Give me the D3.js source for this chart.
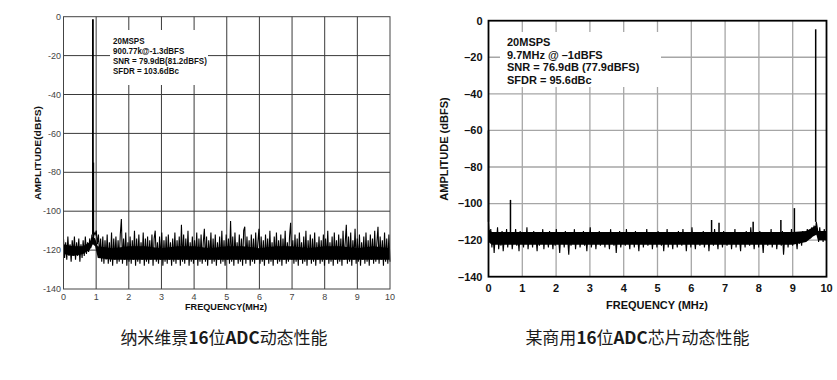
<!DOCTYPE html>
<html><head><meta charset="utf-8">
<script src="https://cdn.jsdelivr.net/npm/d3@7/dist/d3.min.js"></script>
<style>body{margin:0;background:#fff}svg{display:block}</style>
</head><body>
<svg id="chart" width="837" height="380"></svg>
<script>
// ---------- DATA ----------
const yTickValues = [0, -20, -40, -60, -80, -100, -120, -140];
const xTickValues = [0, 1, 2, 3, 4, 5, 6, 7, 8, 9, 10];
const freqRange = [0, 10];   // MHz
const ampRange = [-140, 0];  // dBFS

// left chart noise trace (evenly spaced FFT bins 0..10 MHz)
const leftNoise = [
-114,-124,-116,-125,-113,-123,-117,-126,-115,-122,
-113,-125,-116,-123,-114,-126,-117,-124,-115,-123,
-113,-122,-116,-121,-114,-119,-112,-116,-111,-112,
-110,-117,-112,-122,-114,-126,-113,-127,-115,-125,
-112,-127,-116,-126,-111,-128,-114,-125,-113,-127,
-115,-126,-112,-104,-127,-114,-125,-111,-128,-116,
-126,-113,-127,-115,-125,-110,-128,-114,-126,-112,
-127,-116,-125,-111,-128,-114,-126,-113,-127,-115,
-125,-112,-128,-114,-110,-126,-116,-127,-113,-125,
-111,-128,-115,-126,-113,-127,-112,-125,-116,-128,
-114,-126,-111,-127,-115,-125,-113,-128,-107,-126,
-112,-127,-114,-125,-110,-128,-116,-126,-113,-127,
-115,-125,-111,-128,-114,-126,-112,-127,-116,-109,
-126,-113,-128,-115,-125,-111,-127,-114,-126,-112,
-128,-116,-125,-113,-127,-110,-126,-115,-128,-112,
-125,-114,-127,-105,-126,-113,-128,-111,-125,-116,
-127,-112,-126,-114,-128,-110,-108,-127,-113,-125,
-115,-128,-112,-126,-114,-127,-111,-125,-116,-109,
-127,-113,-126,-115,-128,-112,-125,-114,-127,-110,
-126,-116,-128,-113,-125,-111,-127,-115,-126,-112,
-128,-114,-125,-110,-127,-116,-126,-113,-106,-125,
-115,-127,-112,-126,-114,-128,-111,-125,-116,-127,
-113,-126,-110,-128,-115,-125,-112,-127,-114,-126,
-111,-128,-116,-125,-113,-127,-115,-126,-112,-128,
-114,-125,-110,-127,-116,-126,-113,-128,-111,-125,
-115,-127,-112,-126,-114,-128,-110,-125,-116,-107,
-127,-113,-126,-111,-128,-115,-125,-109,-127,-114,
-126,-112,-128,-116,-125,-113,-127,-111,-126,-115,
-128,-112,-125,-114,-127,-110,-126,-116,-108,-127,
-113,-125,-115,-128,-111,-126,-114,-127,-112,-126
];
// dense core of the left noise band
const leftCoreFreq = [0, 0.3, 0.6, 0.8, 0.9, 0.97, 1.05, 1.5, 2, 2.5, 3, 3.5, 4, 4.5, 5, 5.5, 6, 6.5, 7, 7.5, 8, 8.5, 9, 9.5, 10];
const leftCoreHi = [-117, -118, -118, -116, -113, -114, -118, -119, -118, -118, -119, -118, -118, -119, -118, -118, -119, -118, -118, -119, -118, -118, -119, -118, -119];
const leftCoreLo = [-122, -123, -122, -120, -117, -118, -124, -125, -125, -125, -125, -125, -125, -125, -125, -125, -125, -125, -125, -125, -125, -125, -125, -125, -125];
// [frequency MHz, top dBFS, base dBFS]
const leftSpurs = [[0.9008, -1.3, -112], [0.912, -75, -113]];

// right chart noise trace
const rightNoise = [
-110,-121,-114,-124,-116,-127,-117,-122,-113,-125,
-118,-123,-115,-126,-119,-121,-114,-124,-117,-122,
-116,-125,-119,-121,-114,-123,-118,-126,-115,-122,
-119,-124,-116,-122,-113,-125,-118,-121,-117,-124,
-115,-122,-119,-126,-116,-123,-118,-121,-114,-125,
-117,-122,-119,-124,-115,-121,-118,-125,-116,-123,
-114,-122,-119,-127,-116,-121,-118,-124,-115,-122,
-119,-128,-116,-123,-117,-121,-114,-125,-118,-122,
-116,-124,-119,-121,-115,-123,-118,-126,-117,-122,
-113,-124,-119,-121,-116,-125,-118,-122,-115,-123,
-119,-121,-117,-124,-116,-122,-118,-125,-114,-121,
-119,-123,-116,-127,-118,-122,-115,-124,-119,-121,
-117,-123,-114,-122,-119,-125,-116,-121,-118,-124,
-115,-122,-119,-126,-117,-121,-116,-124,-118,-122,
-114,-123,-119,-121,-116,-125,-118,-122,-117,-124,
-115,-121,-119,-123,-116,-126,-118,-122,-114,-124,
-117,-121,-119,-125,-116,-122,-118,-124,-115,-121,
-119,-123,-114,-122,-117,-126,-118,-121,-116,-124,
-113,-122,-119,-125,-117,-121,-116,-123,-118,-122,
-115,-124,-119,-121,-116,-126,-118,-122,-117,-123,
-114,-121,-119,-125,-116,-122,-118,-124,-115,-121,
-119,-123,-117,-122,-116,-125,-118,-121,-114,-124,
-117,-122,-119,-126,-116,-121,-118,-124,-115,-122,
-119,-123,-113,-121,-117,-125,-118,-122,-116,-124,
-115,-122,-119,-127,-117,-121,-116,-123,-118,-122,
-114,-124,-119,-121,-116,-125,-118,-122,-117,-123,
-115,-128,-119,-121,-116,-124,-118,-122,-114,-123,
-117,-121,-119,-125,-116,-122,-118,-123,-115,-121,
-116,-120,-114,-118,-115,-119,-113,-117,-112,-116,
-110,-114,-121,-113,-119,-115,-121,-114,-120,-116
];
const rightCoreFreq = [0, 0.1, 0.5, 1, 2, 3, 4, 5, 6, 7, 8, 9, 9.4, 9.6, 9.7, 9.75, 10];
const rightCoreHi = [-114, -115.5, -115.5, -115.5, -115.5, -115.5, -115.5, -115.5, -115.5, -115.5, -115.5, -115.5, -115, -113, -112, -115, -115];
const rightCoreLo = [-121, -122.5, -122.5, -122.5, -122.5, -122.5, -122.5, -122.5, -122.5, -122.5, -122.5, -122.5, -121, -118, -117, -120, -120];
const rightSpurs = [
  [0.0, -60, -110], [0.65, -98, -117], [6.6, -109, -117], [6.82, -110.5, -117],
  [7.83, -110, -117], [8.65, -109, -117], [9.05, -102.5, -117], [9.68, -4.7, -110]
];

const leftNotes = ["20MSPS", "900.77k@-1.3dBFS", "SNR = 79.9dB(81.2dBFS)", "SFDR = 103.6dBc"];
const rightNotes = ["20MSPS", "9.7MHz @ \u20131dBFS", "SNR = 76.9dB (77.9dBFS)", "SFDR = 95.6dBc"];
const leftYLabel = "AMPLITUDE(dBFS)", leftXLabel = "FREQUENCY(MHz)";
const rightYLabel = "AMPLITUDE (dBFS)", rightXLabel = "FREQUENCY (MHz)";
const leftCaption = [["纳米维景", false], ["16", true], ["位", false], ["ADC", true], ["动态性能", false]];
const rightCaption = [["某商用", false], ["16", true], ["位", false], ["ADC", true], ["芯片动态性能", false]];

// ---------- DRAW ----------
const svg = d3.select("#chart");

function narrowLen(s, size) {
  const tmp = svg.append("text").attr("font-family", "Liberation Sans, Arial, sans-serif")
    .attr("font-size", size).attr("font-weight", "bold").text(s);
  const w = tmp.node().getComputedTextLength();
  tmp.remove();
  return w * 0.84;
}

function drawPanel(p) {
  const g = svg.append("g");
  const x = d3.scaleLinear().domain(freqRange).range([p.x0, p.x1]);
  const y = d3.scaleLinear().domain(ampRange).range([p.y1, p.y0]);

  // gridlines
  g.append("g").selectAll("line").data(xTickValues.slice(1, -1)).join("line")
    .attr("x1", d => x(d)).attr("x2", d => x(d)).attr("y1", p.y0).attr("y2", p.y1)
    .attr("stroke", p.grid).attr("stroke-width", p.gridW);
  g.append("g").selectAll("line").data(yTickValues.slice(1, -1)).join("line")
    .attr("y1", d => y(d)).attr("y2", d => y(d)).attr("x1", p.x0).attr("x2", p.x1)
    .attr("stroke", p.grid).attr("stroke-width", p.gridW);

  // annotation background
  g.append("rect").attr("x", p.box[0]).attr("y", p.box[1])
    .attr("width", p.box[2]).attr("height", p.box[3]).attr("fill", "#fff");

  // dense noise core
  const core = p.coreFreq.map((f, i) => [f, p.coreHi[i], p.coreLo[i]]);
  g.append("path").datum(core)
    .attr("d", d3.area().x(d => x(d[0])).y0(d => y(d[2])).y1(d => y(d[1])))
    .attr("fill", "#000");

  // noise trace
  const n = p.noise.length;
  const fx = d3.scaleLinear().domain([0, n - 1]).range(freqRange);
  g.append("path").datum(p.noise)
    .attr("d", d3.line().x((d, i) => x(fx(i))).y(d => y(d)))
    .attr("fill", "none").attr("stroke", "#000").attr("stroke-width", p.traceW);

  // spurs
  g.append("g").selectAll("line").data(p.spurs).join("line")
    .attr("x1", d => x(d[0])).attr("x2", d => x(d[0]))
    .attr("y1", d => y(d[2])).attr("y2", d => y(d[1]))
    .attr("stroke", "#000").attr("stroke-width", p.spurW);

  // frame
  g.append("rect").attr("x", p.x0).attr("y", p.y0)
    .attr("width", p.x1 - p.x0).attr("height", p.y1 - p.y0)
    .attr("fill", "none").attr("stroke", p.frame).attr("stroke-width", p.frameW);

  // tick labels
  const font = "Liberation Sans, Arial, sans-serif";
  g.append("g").selectAll("text").data(yTickValues).join("text")
    .attr("x", p.x0 - p.yLabGap).attr("y", d => y(d))
    .attr("dy", "0.35em").attr("text-anchor", "end")
    .attr("font-family", font)
    .attr("font-size", p.tickSize).attr("font-weight", p.tickWeight).attr("fill", p.tickColor)
    .text(d => d === 0 ? "0" : p.minus + Math.abs(d));
  g.append("g").selectAll("text").data(xTickValues).join("text")
    .attr("x", d => x(d)).attr("y", p.xLabY)
    .attr("text-anchor", "middle")
    .attr("font-family", font)
    .attr("font-size", p.tickSize).attr("font-weight", p.tickWeight).attr("fill", p.tickColor)
    .text(d => d);

  // axis titles
  const yt = g.append("text")
    .attr("transform", `translate(${p.yTitle[0]},${p.yTitle[1]}) rotate(-90)`)
    .attr("text-anchor", "middle").attr("font-family", font)
    .attr("font-size", p.titleSize).attr("font-weight", "bold").attr("fill", "#111")
    .text(p.yLabel);
  const xt = g.append("text")
    .attr("x", p.xTitle[0]).attr("y", p.xTitle[1])
    .attr("text-anchor", "middle").attr("font-family", font)
    .attr("font-size", p.titleSize).attr("font-weight", "bold").attr("fill", "#111")
    .text(p.xLabel);
  if (p.yTitleLen) yt.attr("textLength", p.yTitleLen).attr("lengthAdjust", "spacingAndGlyphs");
  if (p.xTitleLen) xt.attr("textLength", p.xTitleLen).attr("lengthAdjust", "spacingAndGlyphs");

  // notes
  const nt = g.append("g").selectAll("text").data(p.notes).join("text")
    .attr("x", p.noteX).attr("y", (d, i) => p.noteY + i * p.noteStep)
    .attr("font-family", font)
    .attr("font-size", p.noteSize).attr("font-weight", "bold").attr("fill", "#111")
    .text(d => d);
  if (p.narrow) nt.attr("textLength", d => narrowLen(d, p.noteSize)).attr("lengthAdjust", "spacingAndGlyphs");

  // caption
  const cap = svg.append("text").attr("x", p.capX).attr("y", 344)
    .attr("text-anchor", "middle")
    .attr("font-family", "Noto Sans CJK SC, sans-serif")
    .attr("font-size", 17).attr("fill", "#1a1a1a");
  cap.selectAll("tspan").data(p.caption).join("tspan")
    .attr("font-weight", d => d[1] ? "bold" : "normal")
    .text(d => d[0]);
}

drawPanel({
  x0: 63.5, x1: 390, y0: 16.7, y1: 289,
  grid: "#3a3a3a", gridW: 1, frame: "#444", frameW: 1,
  traceW: 1.1, spurW: 1.8,
  noise: leftNoise, coreFreq: leftCoreFreq, coreHi: leftCoreHi, coreLo: leftCoreLo, spurs: leftSpurs,
  box: [110, 30, 98, 55],
  minus: "-", tickSize: 9, tickWeight: "normal", tickColor: "#444", yLabGap: 2.5, xLabY: 299.5,
  yLabel: leftYLabel, xLabel: leftXLabel, titleSize: 9.5,
  yTitle: [41, 153], xTitle: [226, 310], yTitleLen: 94, xTitleLen: 82,
  notes: leftNotes, noteX: 113, noteY: 44, noteStep: 10, noteSize: 9.5, narrow: true,
  capX: 224, caption: leftCaption
});

drawPanel({
  x0: 488.5, x1: 826.5, y0: 20.7, y1: 276.7,
  grid: "#a6a6a6", gridW: 1.3, frame: "#000", frameW: 1.8,
  traceW: 1.1, spurW: 1.5,
  noise: rightNoise, coreFreq: rightCoreFreq, coreHi: rightCoreHi, coreLo: rightCoreLo, spurs: rightSpurs,
  box: [500, 32, 161, 55],
  minus: "\u2013", tickSize: 11, tickWeight: "bold", tickColor: "#111", yLabGap: 6, xLabY: 292,
  yLabel: rightYLabel, xLabel: rightXLabel, titleSize: 11,
  yTitle: [448, 149], xTitle: [657, 309],
  notes: rightNotes, noteX: 507, noteY: 46, noteStep: 12.7, noteSize: 11, narrow: false,
  capX: 637.5, caption: rightCaption
});
</script>
</body></html>
